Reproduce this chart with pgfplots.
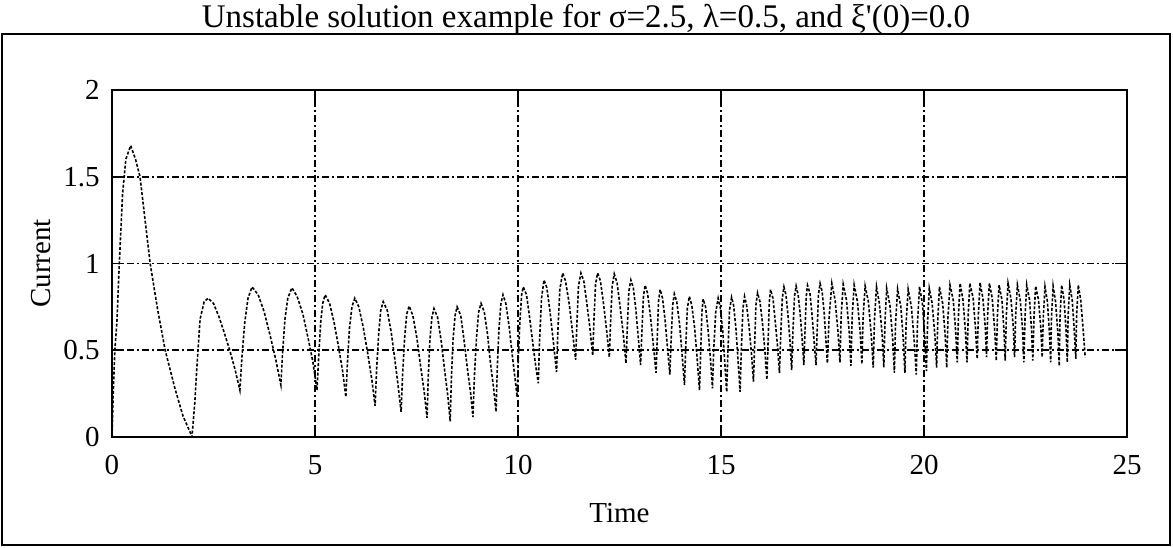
\documentclass[border=0pt]{standalone}
\usepackage{pgfplots}
\pgfplotsset{compat=1.18}
\usepackage{fontspec}
\setmainfont{Liberation Serif}
\newfontfamily\titlefont{Liberation Serif}
\pgfplotstableread{
t y
0 0
0.03 0.25
0.07 0.5
0.12 0.66
0.18 1.0
0.26 1.4
0.34 1.6
0.46 1.68
0.58 1.6
0.69 1.5
0.94 1.0
1.12 0.74
1.31 0.5
1.55 0.28
1.75 0.12
1.92 0.03
1.97 0.0
2.04 0.2
2.09 0.4
2.17 0.68
2.27 0.78
2.37 0.80
2.5 0.77
2.64 0.69
2.78 0.59
2.9 0.5
3.03 0.39
3.15 0.27
3.2 0.46
3.27 0.66
3.35 0.8
3.45 0.865
3.6 0.82
3.75 0.72
3.9 0.58
4.03 0.45
4.16 0.30
4.2 0.48
4.26 0.68
4.33 0.8
4.43 0.86
4.56 0.81
4.7 0.71
4.83 0.57
4.95 0.43
5.05 0.27
5.09 0.46
5.14 0.66
5.19 0.77
5.25 0.82
5.36 0.77
5.47 0.66
5.58 0.52
5.68 0.38
5.76 0.23
5.8 0.43
5.85 0.63
5.91 0.75
5.98 0.80
6.08 0.75
6.19 0.63
6.3 0.48
6.4 0.33
6.48 0.18
6.52 0.40
6.57 0.6
6.62 0.73
6.68 0.78
6.78 0.73
6.88 0.6
6.97 0.44
7.05 0.29
7.12 0.145
7.16 0.37
7.21 0.58
7.26 0.71
7.32 0.755
7.41 0.7
7.51 0.57
7.6 0.41
7.69 0.26
7.76 0.11
7.79 0.35
7.83 0.56
7.88 0.69
7.93 0.74
8.02 0.69
8.11 0.55
8.19 0.39
8.27 0.24
8.33 0.09
8.36 0.34
8.4 0.56
8.45 0.7
8.5 0.75
8.59 0.7
8.67 0.56
8.75 0.4
8.83 0.26
8.89 0.115
8.93 0.37
8.98 0.58
9.03 0.72
9.09 0.77
9.17 0.72
9.25 0.59
9.32 0.43
9.4 0.28
9.46 0.145
9.49 0.4
9.53 0.62
9.58 0.77
9.63 0.82
9.7 0.77
9.78 0.64
9.85 0.49
9.92 0.35
9.98 0.23
10.01 0.47
10.05 0.68
10.09 0.82
10.13 0.865
10.21 0.82
10.28 0.7
10.36 0.55
10.43 0.42
10.5 0.31
10.53 0.55
10.58 0.8
10.64 0.905
10.71 0.86
10.79 0.72
10.87 0.55
10.95 0.375
10.98 0.6
11.03 0.85
11.1 0.945
11.17 0.9
11.26 0.77
11.34 0.61
11.42 0.445
11.45 0.65
11.49 0.87
11.55 0.945
11.62 0.9
11.69 0.78
11.77 0.63
11.84 0.47
11.87 0.67
11.91 0.88
11.96 0.945
12.03 0.9
12.1 0.78
12.18 0.62
12.25 0.46
12.28 0.66
12.32 0.87
12.37 0.94
12.44 0.89
12.51 0.76
12.59 0.6
12.66 0.425
12.69 0.62
12.73 0.84
12.78 0.905
12.84 0.86
12.9 0.74
12.96 0.58
13.02 0.415
13.05 0.6
13.09 0.81
13.13 0.875
13.19 0.83
13.26 0.7
13.33 0.54
13.4 0.37
13.43 0.57
13.46 0.78
13.5 0.85
13.56 0.8
13.62 0.68
13.68 0.52
13.74 0.36
13.77 0.55
13.81 0.76
13.85 0.825
13.91 0.78
13.98 0.65
14.04 0.48
14.1 0.3
14.13 0.51
14.17 0.74
14.22 0.81
14.28 0.76
14.35 0.63
14.41 0.46
14.47 0.27
14.5 0.49
14.53 0.72
14.56 0.795
14.62 0.75
14.68 0.62
14.74 0.45
14.79 0.28
14.82 0.5
14.87 0.72
14.93 0.8
14.98 0.75
15.04 0.62
15.09 0.44
15.14 0.26
15.17 0.49
15.21 0.73
15.26 0.805
15.31 0.76
15.37 0.62
15.42 0.44
15.47 0.26
15.5 0.5
15.54 0.74
15.58 0.81
15.63 0.76
15.69 0.64
15.75 0.48
15.8 0.32
15.83 0.54
15.86 0.76
15.9 0.83
15.96 0.78
16.02 0.66
16.08 0.5
16.13 0.33
16.16 0.55
16.19 0.78
16.22 0.85
16.28 0.8
16.33 0.68
16.39 0.53
16.44 0.37
16.47 0.58
16.51 0.8
16.55 0.865
16.6 0.82
16.65 0.7
16.7 0.55
16.74 0.385
16.77 0.6
16.81 0.81
16.85 0.87
16.9 0.82
16.95 0.71
17.0 0.56
17.04 0.415
17.07 0.62
17.1 0.81
17.13 0.875
17.19 0.83
17.24 0.71
17.29 0.56
17.34 0.415
17.37 0.62
17.4 0.82
17.44 0.885
17.49 0.84
17.54 0.72
17.58 0.57
17.62 0.425
17.66 0.68
17.73 0.885
17.81 0.79
17.88 0.61
17.93 0.43
17.96 0.70
18.01 0.88
18.09 0.79
18.16 0.60
18.20 0.41
18.23 0.69
18.28 0.876
18.36 0.78
18.43 0.60
18.47 0.42
18.50 0.69
18.55 0.87
18.63 0.78
18.70 0.59
18.75 0.40
18.78 0.68
18.83 0.866
18.90 0.77
18.97 0.59
19.01 0.40
19.04 0.67
19.08 0.857
19.16 0.76
19.23 0.56
19.27 0.37
19.30 0.66
19.35 0.851
19.43 0.75
19.49 0.56
19.53 0.37
19.56 0.66
19.61 0.851
19.69 0.75
19.76 0.55
19.81 0.36
19.84 0.66
19.89 0.866
19.96 0.77
20.02 0.57
20.06 0.38
20.09 0.67
20.13 0.857
20.20 0.77
20.27 0.58
20.31 0.40
20.34 0.68
20.38 0.866
20.46 0.77
20.52 0.59
20.56 0.40
20.59 0.69
20.64 0.876
20.72 0.79
20.78 0.61
20.82 0.43
20.85 0.71
20.89 0.886
20.96 0.79
21.02 0.61
21.06 0.43
21.09 0.71
21.13 0.886
21.21 0.80
21.27 0.62
21.31 0.45
21.34 0.71
21.38 0.889
21.45 0.80
21.51 0.63
21.54 0.46
21.57 0.72
21.61 0.886
21.68 0.80
21.74 0.62
21.78 0.44
21.81 0.71
21.85 0.876
21.92 0.79
21.97 0.61
22.00 0.44
22.03 0.71
22.07 0.886
22.14 0.80
22.20 0.63
22.23 0.46
22.26 0.71
22.30 0.876
22.37 0.79
22.43 0.61
22.46 0.43
22.49 0.70
22.53 0.876
22.60 0.79
22.65 0.61
22.68 0.44
22.71 0.70
22.75 0.87
22.82 0.79
22.88 0.62
22.91 0.46
22.94 0.70
22.98 0.866
23.04 0.78
23.09 0.60
23.12 0.43
23.14 0.69
23.18 0.87
23.24 0.78
23.30 0.59
23.33 0.41
23.35 0.69
23.39 0.876
23.45 0.79
23.50 0.61
23.53 0.43
23.55 0.70
23.59 0.876
23.65 0.79
23.70 0.62
23.74 0.45
23.76 0.71
23.80 0.876
23.86 0.79
23.92 0.62
23.97 0.46
}\current
\begin{document}
\begin{tikzpicture}
\useasboundingbox (-56pt,-55pt) rectangle (530.5pt,218.5pt);
\begin{axis}[
  at={(0,0)}, anchor=south west,
  scale only axis, width=507.5pt, height=173.5pt,
  xmin=0, xmax=25, ymin=0, ymax=2,
  xtick={0,5,10,15,20,25}, ytick={0,0.5,1,1.5,2},
  yticklabels={0,0.5,1,1.5,2},
  /pgf/number format/assume math mode=true,
  tick label style={font=\fontsize{14.5}{16}\selectfont},
  xticklabel style={anchor=north, inner sep=0pt, yshift=-9pt},
  yticklabel style={anchor=east, inner sep=0pt, xshift=-6pt},
  tick align=inside, major tick length=6pt,
  tick style={black, line width=0.9pt},
  axis line style={black, line width=1.1pt},
  grid=major,
  major grid style={black, line width=0.8pt, dash pattern=on 3.5pt off 1.5pt on 1pt off 1.5pt},
  xlabel={Time}, ylabel={Current},
  every axis x label/.style={at={(axis description cs:0.5,-0.219)}, anchor=center, font=\fontsize{14.5}{16}\selectfont},
  every axis y label/.style={at={(axis description cs:-0.07,0.5)}, anchor=center, rotate=90, font=\fontsize{14.5}{16}\selectfont},
]
\addplot[black, line width=0.8pt, dash pattern=on 1.5pt off 0.9pt] table[x=t,y=y] {\current};
\end{axis}
\draw[black, line width=1.1pt] (-55pt,-54pt) rectangle (529pt,201.5pt);
\node[anchor=base, inner sep=0pt, font=\titlefont\fontsize{16.5}{18}\selectfont] at (237pt,204.5pt) {Unstable solution example for σ=2.5, λ=0.5, and ξ'(0)=0.0};
\end{tikzpicture}
\end{document}
